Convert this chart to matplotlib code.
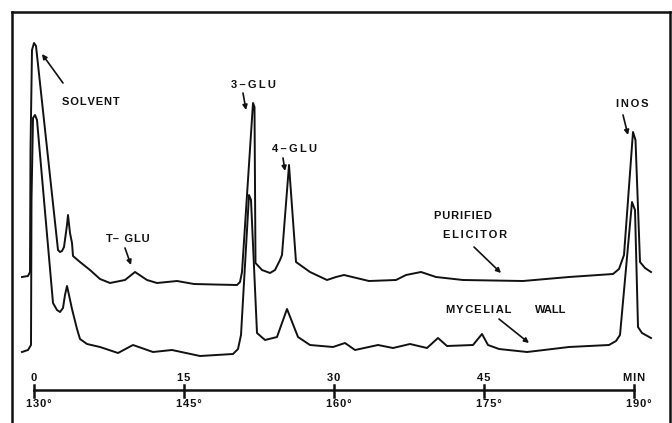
import matplotlib
matplotlib.use("Agg")
import matplotlib.pyplot as plt
import numpy as np

# ---- data: retention time (min) and detector response (arbitrary units, relative to own baseline)
elicitor_time = [-1.2, -0.6, -0.4, -0.35, -0.2, 0.0, 0.2, 2.4, 2.6, 2.8, 3.0, 3.3, 3.4, 3.6, 3.8, 3.9,
                 4.6, 5.6, 6.6, 7.6, 9.1, 10.1, 11.3, 12.3, 14.3, 16.0, 18.0, 20.3, 20.6, 20.8,
                 21.9, 22.05, 22.15, 22.8, 23.6, 24.1, 24.6, 24.8, 25.5, 26.2, 27.6, 29.3, 30.2,
                 31.0, 33.5, 36.2, 37.2, 38.7, 40.2, 42.9, 48.9, 53.5, 57.9, 58.5, 59.0, 59.9,
                 60.15, 60.6, 61.1, 61.7]
elicitor_resp = [6, 7, 11, 133, 233, 240, 237, 33, 31, 32, 36, 58, 68, 50, 40, 27,
                 21, 13, 4, 0, 3, 11, 3, 0, 2, -1, -1.5, -2, 1, 11,
                 180, 176, 20, 13, 10, 13, 23, 28, 118, 21, 11, 3, 6,
                 8, 2, 3, 8, 11, 6, 3, 2, 6, 9, 14, 28, 151,
                 143, 21, 15, 11]

wall_time = [-1.2, -0.6, -0.3, -0.25, -0.1, 0.1, 0.3, 1.9, 2.3, 2.6, 2.9, 3.1, 3.3, 3.5, 3.8,
             4.3, 4.6, 5.3, 6.6, 8.4, 9.9, 11.9, 13.8, 16.6, 19.9, 20.4, 20.7, 21.5, 21.7,
             22.3, 23.1, 24.3, 25.3, 26.4, 27.6, 29.9, 31.1, 32.1, 34.4, 35.9, 37.6, 39.3,
             40.4, 41.3, 43.9, 44.8, 45.4, 46.5, 49.3, 51.0, 53.5, 57.5, 58.2, 58.6, 59.8,
             60.1, 60.4, 60.8, 61.7]
wall_resp = [-2, 0, 5, 150, 232, 235, 230, 47, 40, 38, 42, 55, 64, 55, 41,
             21, 11, 6, 3, -3, 5, -2, 0, -6, -4, 1, 15, 155, 150,
             17, 10, 13, 41, 13, 5, 3, 7, 0, 5, 2, 6, 2,
             12, 4, 5, 16, 5, 1, -2, 0, 3, 5, 9, 15, 148,
             140, 23, 17, 12]

elicitor_offset = 107
wall_offset = 40

minute_ticks = [0, 15, 30, 45, 60]
minute_labels = ["0", "15", "30", "45", "MIN"]
temp_labels = ["130°", "145°", "160°", "175°", "190°"]

# ---- figure
W, H = 672, 423
fig = plt.figure(figsize=(W / 100, H / 100), dpi=100)
ax = fig.add_axes([12 / W, 0, (670 - 12) / W, (H - 12) / H])
ax.set_xlim(-2.2, 63.6)
ax.set_ylim(-33, 378)
ax.set_xticks([])
ax.set_yticks([])
for s in ["top", "left", "right"]:
    ax.spines[s].set_linewidth(1.8)
    ax.spines[s].set_color("#111111")
ax.spines["bottom"].set_visible(False)

ink = "#111111"
ax.plot(elicitor_time, np.array(elicitor_resp) + elicitor_offset, color=ink, lw=1.4,
        solid_joinstyle="round")
ax.plot(wall_time, np.array(wall_resp) + wall_offset, color=ink, lw=1.4,
        solid_joinstyle="round")

fam = ["Liberation Sans", "DejaVu Sans"]
HAIR, THIN = "\u200a", "\u2009"


def spaced(s, sp):
    return sp.join(s)


def spaced_alt(s, a, b):
    out = s[0]
    for i, ch in enumerate(s[1:]):
        out += (a if i % 2 == 0 else b) + ch
    return out


# time / temperature ruler
ax.plot([minute_ticks[0], minute_ticks[-1]], [0, 0], color=ink, lw=1.8)
for t, ml, tl in zip(minute_ticks, minute_labels, temp_labels):
    ax.plot([t, t], [5, -7], color=ink, lw=1.8)
    ax.text(t, 12, spaced(ml, HAIR), ha="center", va="center", fontsize=8, fontweight="bold",
            family=fam, color=ink)
    ax.text(t + 0.5, -14, spaced(tl, HAIR), ha="center", va="center", fontsize=8,
            fontweight="bold", family=fam, color=ink)

font = dict(fontsize=8, fontweight="bold", family=fam, color=ink, ha="center", va="center")
arrow = dict(arrowstyle="-|>", lw=1.2, color=ink, mutation_scale=7, shrinkA=0, shrinkB=0)

ax.text(5.65, 288, spaced("SOLVENT", HAIR), **font)
ax.annotate("", xy=(0.8, 336), xytext=(2.9, 307), arrowprops=arrow)
ax.text(21.9, 305, spaced("3–GLU", THIN), **font)
ax.annotate("", xy=(21.2, 280), xytext=(20.9, 297), arrowprops=arrow)
ax.text(26.0, 241, spaced("4–GLU", THIN), **font)
ax.annotate("", xy=(25.1, 219), xytext=(24.9, 232), arrowprops=arrow)
ax.text(9.35, 151, "T–" + THIN + " " + spaced("GLU", HAIR), **font)
ax.annotate("", xy=(9.7, 125), xytext=(9.1, 142), arrowprops=arrow)
ax.text(59.8, 286, spaced("INOS", HAIR * 2), **font)
ax.annotate("", xy=(59.4, 255), xytext=(58.9, 275), arrowprops=arrow)
ax.text(42.9, 174, spaced("PURIFIED", HAIR), **font)
ax.text(44.15, 155, spaced("ELICITOR", HAIR * 2), **font)
ax.annotate("", xy=(46.7, 117), xytext=(44.0, 143), arrowprops=arrow)
ax.text(44.45, 80, spaced_alt("MYCELIAL", HAIR, HAIR * 2), **font)
ax.text(51.65, 80, "WALL", **font)
ax.annotate("", xy=(49.5, 47), xytext=(46.5, 71), arrowprops=arrow)

fig.savefig("out.png", dpi=100)
